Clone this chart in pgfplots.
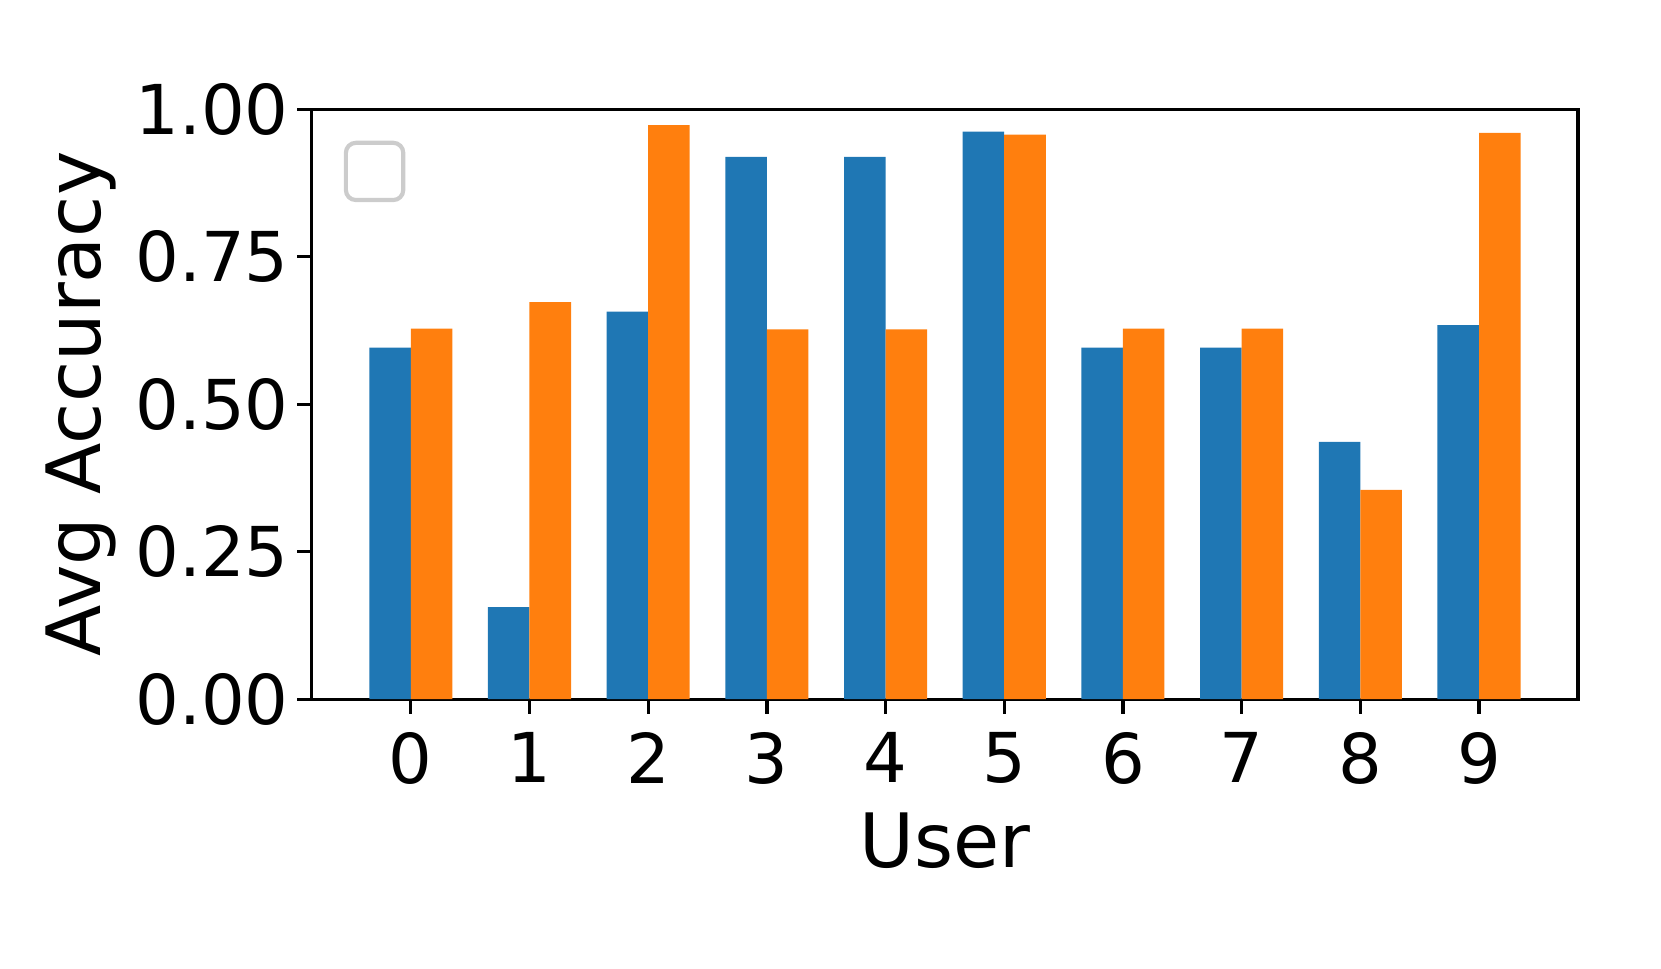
\documentclass[border=0pt]{standalone}
\usepackage{fontspec}
\setmainfont{DejaVu Sans}
\usepackage{pgfplots}
\pgfplotsset{compat=1.18}
\definecolor{mplblue}{HTML}{1F77B4}
\definecolor{mplorange}{HTML}{FF7F0E}
\begin{document}
\begin{tikzpicture}
\path[use as bounding box] (-74.8pt,-64.7pt) rectangle (323.8pt,167.8pt);
\begin{axis}[
  at={(0,0)}, anchor=south west,
  scale only axis,
  width=303.9pt, height=141.6pt,
  xmin=-0.835, xmax=9.835,
  ymin=0, ymax=1,
  xtick={0,1,2,3,4,5,6,7,8,9},
  ytick={0,0.25,0.5,0.75,1},
  yticklabel style={/pgf/number format/fixed, /pgf/number format/precision=2, /pgf/number format/fixed zerofill},
  /pgf/number format/assume math mode=true,
  tick align=outside,
  major tick length=3.5pt,
  tick style={black, line width=0.8pt},
  axis line style={line width=0.8pt},
  xtick pos=bottom, ytick pos=left,
  ticklabel style={font=\fontsize{16.5}{19}\selectfont},
  label style={font=\fontsize{18}{21}\selectfont},
  xlabel={User},
  ylabel={Avg Accuracy},
  xlabel style={at={(axis description cs:0.5,-0.285)}, anchor=base},
  ylabel style={at={(axis description cs:-0.167,0.5)}, anchor=base, rotate=0},
  xticklabel style={yshift=-1pt},
  yticklabel style={xshift=1.5pt},
]
\addplot[ybar, bar width=0.35, bar shift=-0.175, fill=mplblue, draw=none] coordinates {
(0,0.596) (1,0.156) (2,0.657) (3,0.919) (4,0.919) (5,0.962) (6,0.596) (7,0.596) (8,0.436) (9,0.634)};
\addplot[ybar, bar width=0.35, bar shift=0.175, fill=mplorange, draw=none] coordinates {
(0,0.628) (1,0.673) (2,0.973) (3,0.627) (4,0.627) (5,0.957) (6,0.628) (7,0.628) (8,0.355) (9,0.960)};
\draw[draw=black!20, fill=white, line width=1pt, rounded corners=2.4pt]
  (axis description cs:0.027,0.846) rectangle (axis description cs:0.0723,0.943);
\end{axis}
\end{tikzpicture}
\end{document}
